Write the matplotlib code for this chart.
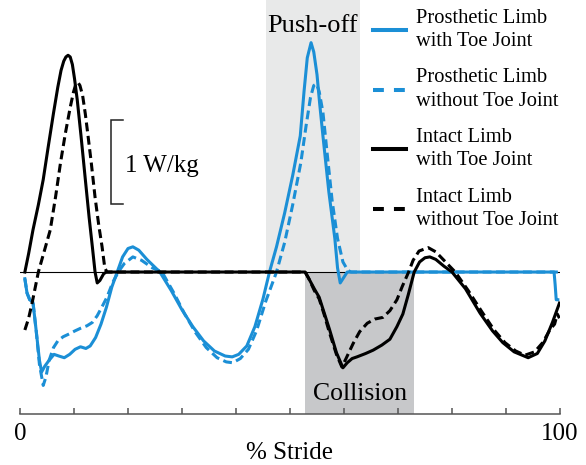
import matplotlib
matplotlib.use('Agg')
import matplotlib.pyplot as plt
from matplotlib.lines import Line2D

plt.rcParams['font.family'] = ['Liberation Serif', 'DejaVu Serif']

# ---------------- data ----------------
stride_ticks = list(range(0, 101, 10))
tick_labels = ['0'] + [''] * 9 + ['100']

# Prosthetic limb, with toe joint (blue solid)
prost_toe_x = [0.9, 1.3, 1.8, 2.4, 3.0, 3.6, 4.0, 4.6, 5.4, 6.3, 7.2, 8.2, 9.2, 10.2,
               11.2, 12.2, 13.0, 14.0, 15.0, 16.0, 17.0, 18.0, 19.0, 20.0, 20.9, 22.0,
               23.5, 25.9, 28.0, 30.0, 32.0, 34.0, 36.0, 38.0, 39.3, 40.5, 42.0, 43.5,
               45.0, 46.2, 47.5, 49.0, 50.5, 51.9, 52.6, 53.2, 53.9, 54.4, 55.0, 55.5,
               56.1, 57.2, 58.3, 58.8, 59.3, 60.0, 60.6, 98.9, 99.1, 99.3, 99.6]
prost_toe_y = [-0.08, -0.25, -0.33, -0.36, -0.70, -1.05, -1.19, -1.12, -1.05, -0.98, -1.00,
               -1.02, -0.98, -0.92, -0.89, -0.91, -0.88, -0.78, -0.62, -0.42, -0.18, 0.0,
               0.18, 0.28, 0.30, 0.26, 0.15, 0.0, -0.22, -0.45, -0.65, -0.82, -0.94, -1.00,
               -1.01, -0.98, -0.88, -0.65, -0.32, 0.0, 0.30, 0.70, 1.15, 1.62, 2.15, 2.55,
               2.73, 2.62, 2.35, 2.00, 1.62, 0.95, 0.40, 0.05, -0.13, -0.06, 0.0, 0.0,
               -0.15, -0.33, -0.33]

# Prosthetic limb, without toe joint (blue dashed)
prost_notoe_x = [0.9, 1.3, 1.8, 2.4, 3.0, 3.6, 4.3, 4.8, 5.4, 6.2, 7.0, 8.0, 9.0, 10.2,
                 11.2, 12.4, 13.4, 14.3, 15.3, 16.1, 17.2, 18.2, 19.3, 20.9, 22.5, 24.5,
                 26.3, 28.5, 30.5, 32.5, 34.5, 36.5, 38.2, 39.4, 40.8, 42.3, 43.8, 45.5,
                 47.5, 49.0, 50.5, 52.0, 53.0, 53.8, 54.4, 54.9, 55.4, 56.1, 56.9, 57.8,
                 58.8, 59.8, 60.7, 61.3, 99.6]
prost_notoe_y = [-0.08, -0.25, -0.33, -0.36, -0.70, -1.10, -1.35, -1.25, -1.05, -0.90,
                 -0.82, -0.77, -0.74, -0.70, -0.67, -0.64, -0.60, -0.52, -0.40, -0.30,
                 -0.12, 0.0, 0.10, 0.18, 0.14, 0.05, 0.0, -0.25, -0.50, -0.72, -0.90,
                 -1.02, -1.07, -1.08, -1.03, -0.92, -0.70, -0.35, 0.0, 0.35, 0.80, 1.30,
                 1.75, 2.08, 2.22, 2.24, 2.15, 1.90, 1.40, 0.85, 0.40, 0.12, 0.02, 0.0, 0.0]

# Intact limb, with toe joint (black solid)
intact_toe_x = [0.9, 1.6, 2.4, 3.4, 4.3, 5.2, 6.2, 7.0, 7.6, 8.1, 8.5, 8.9, 9.3, 9.7,
                10.1, 10.6, 11.3, 12.1, 12.8, 13.4, 13.9, 14.3, 14.8, 15.5, 16.0, 52.8,
                53.5, 54.5, 55.4, 56.3, 57.3, 58.6, 59.8, 60.6, 61.5, 62.4, 64.0, 65.4,
                67.0, 68.5, 69.8, 70.9, 71.9, 73.0, 74.0, 75.0, 75.9, 77.0, 78.5, 80.0,
                82.5, 85.2, 87.5, 89.4, 91.5, 94.1, 95.8, 97.2, 98.6, 99.9]
intact_toe_y = [0.0, 0.22, 0.50, 0.80, 1.10, 1.48, 1.89, 2.20, 2.40, 2.51, 2.56, 2.58,
                2.56, 2.47, 2.30, 2.05, 1.62, 1.10, 0.65, 0.30, 0.0, -0.13, -0.10, -0.02,
                0.0, 0.0, -0.08, -0.20, -0.30, -0.48, -0.68, -0.96, -1.14, -1.08, -1.03,
                -1.01, -0.97, -0.93, -0.87, -0.80, -0.65, -0.50, -0.27, 0.0, 0.12, 0.17,
                0.18, 0.15, 0.07, 0.0, -0.20, -0.49, -0.70, -0.84, -0.95, -1.02, -0.97,
                -0.82, -0.60, -0.37]

# Intact limb, without toe joint (black dashed)
intact_notoe_x = [0.9, 1.6, 2.3, 3.4, 4.5, 5.6, 6.6, 7.5, 8.4, 9.3, 9.9, 10.3, 10.7,
                  11.1, 11.6, 12.1, 12.6, 13.2, 13.9, 14.6, 15.2, 15.7, 16.1, 52.8, 53.5,
                  54.5, 55.4, 56.3, 57.3, 58.6, 59.6, 60.3, 61.7, 62.9, 64.3, 65.7, 67.2,
                  68.5, 69.8, 70.8, 71.9, 72.8, 73.9, 75.6, 77.0, 78.8, 80.6, 83.0, 85.5,
                  87.8, 89.8, 91.8, 93.5, 95.3, 96.8, 98.2, 99.0, 99.5, 99.9]
intact_notoe_y = [-0.69, -0.55, -0.35, 0.0, 0.25, 0.50, 0.90, 1.30, 1.65, 1.96, 2.14,
                  2.23, 2.26, 2.22, 2.10, 1.88, 1.62, 1.30, 0.89, 0.55, 0.30, 0.05, 0.0,
                  0.0, -0.08, -0.22, -0.32, -0.50, -0.72, -0.98, -1.13, -1.04, -0.85,
                  -0.71, -0.61, -0.56, -0.54, -0.46, -0.33, -0.17, -0.01, 0.14, 0.25,
                  0.29, 0.24, 0.12, 0.0, -0.22, -0.47, -0.69, -0.84, -0.94, -0.99, -0.95,
                  -0.84, -0.68, -0.62, -0.50, -0.55]

series_labels = ['Prosthetic Limb\nwith Toe Joint', 'Prosthetic Limb\nwithout Toe Joint',
                 'Intact Limb\nwith Toe Joint', 'Intact Limb\nwithout Toe Joint']

pushoff_span = [45.5, 63.0]
collision_span = [52.8, 73.0]
scale_bar_value = 1.0  # W/kg

# ---------------- styles / layout ----------------
BLUE = '#1b8fd6'
BLACK = '#000000'
W, H = 586, 465
Y_LO, Y_HI = -1.69, 3.238

fig = plt.figure(figsize=(W / 100, H / 100), dpi=100)
ax = fig.add_axes([20 / W, 51 / H, 540 / W, 414 / H])
ax.set_xlim(0, 100)
ax.set_ylim(Y_LO, Y_HI)

ax.fill_between(pushoff_span, 0, Y_HI, color='#e8e9e9', lw=0, zorder=0)
ax.fill_between(collision_span, Y_LO, 0, color='#c7c8ca', lw=0, zorder=0)
ax.plot([0, 100], [0, 0], color='black', lw=0.8, zorder=1)

lw = 2.2
dash = (2.9, 1.5)
ax.plot(prost_notoe_x, prost_notoe_y, color=BLUE, lw=lw, dashes=dash, zorder=2)
ax.plot(prost_toe_x, prost_toe_y, color=BLUE, lw=lw, zorder=3)
ax.plot(intact_notoe_x, intact_notoe_y, color=BLACK, lw=lw, dashes=dash, zorder=4)
ax.plot(intact_toe_x, intact_toe_y, color=BLACK, lw=lw, zorder=5)

# scale bar
sb_x, sb_y0 = 16.85, 0.81
ax.plot([sb_x + 2.2, sb_x, sb_x, sb_x + 2.2],
        [sb_y0 + scale_bar_value, sb_y0 + scale_bar_value, sb_y0, sb_y0],
        color='#222222', lw=1.1, solid_joinstyle='miter', zorder=6)
ax.text(19.4, 1.19, f'{scale_bar_value:g} W/kg', fontsize=18, ha='left', va='baseline')

ax.text(sum(pushoff_span) / 2, 2.86, 'Push-off', fontsize=19, ha='center', va='baseline')
ax.text(sum(collision_span) / 2, -1.52, 'Collision', fontsize=18.5, ha='center', va='baseline')

# axes styling
for s in ['left', 'right', 'top']:
    ax.spines[s].set_visible(False)
ax.spines['bottom'].set_color('#555555')
ax.spines['bottom'].set_linewidth(1.1)
ax.set_yticks([])
ax.set_xticks(stride_ticks)
ax.set_xticklabels(tick_labels)
ax.tick_params(axis='x', direction='in', length=4.3, width=1.1, color='#555555',
               labelsize=18, pad=6.5)
ax.set_xlabel('% Stride', fontsize=18, labelpad=-2)

# legend (manual, figure pixel layout)
styles = [(BLUE, None), (BLUE, (2.7, 2.5)), (BLACK, None), (BLACK, (2.7, 2.5))]
centers = [30.0, 89.6, 149.2, 208.8]
for (c, d), lab, yc in zip(styles, series_labels, centers):
    kw = dict(color=c, lw=2.9, transform=fig.transFigure)
    if d is not None:
        kw['dashes'] = d
    fig.add_artist(Line2D([373 / W, 406 / W], [1 - yc / H, 1 - yc / H], **kw))
    fig.text(416 / W, 1 - yc / H, lab, fontsize=14.8, ha='left', va='center',
             linespacing=1.3)

fig.savefig('out.png', dpi=100)
